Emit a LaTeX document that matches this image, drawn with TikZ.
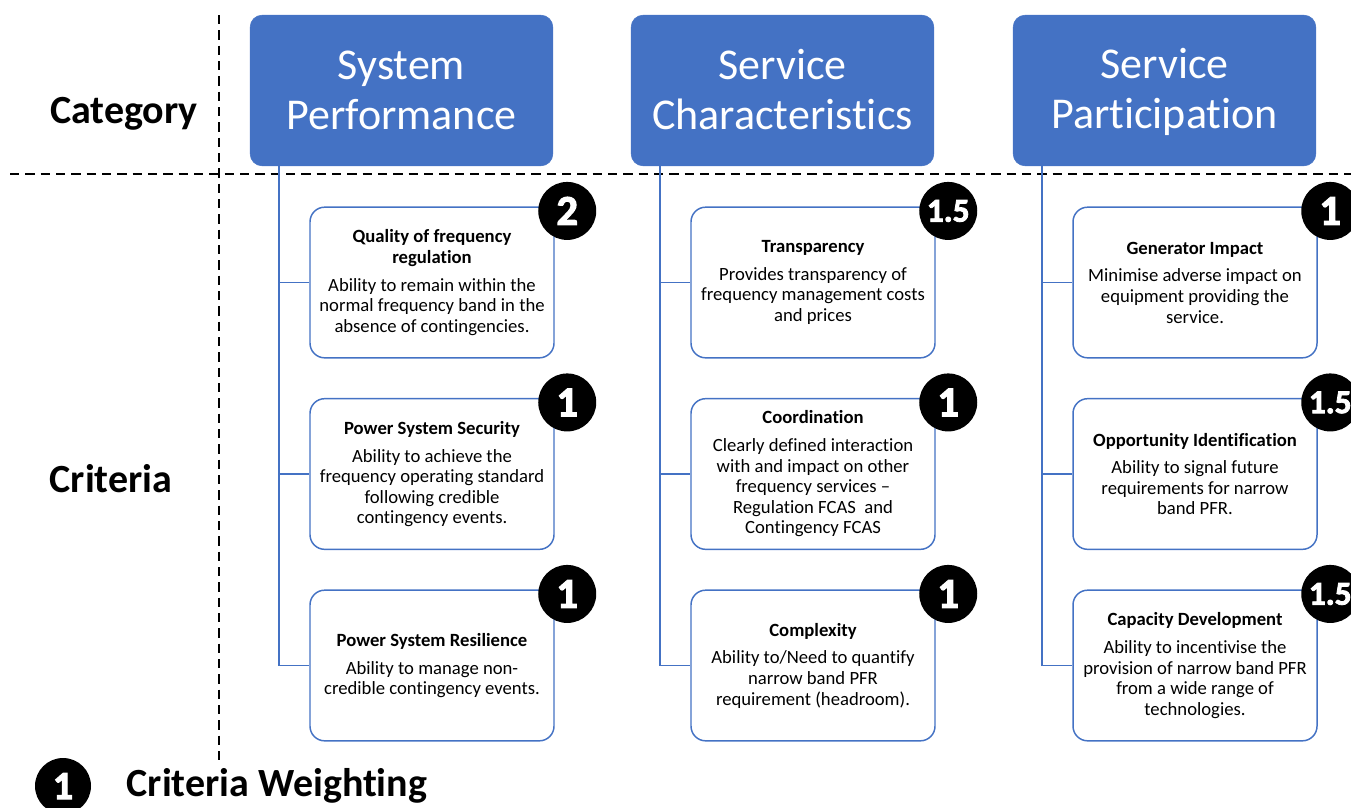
\documentclass[tikz,border=0pt]{standalone}
\usepackage{fontspec}
\setmainfont{Carlito}[Ligatures=NoCommon]
\newfontfamily\wgtfont{Carlito}[BoldFeatures={FakeBold=2.5}]

\definecolor{mblu}{RGB}{68, 114, 196}

\tikzset{
  hdr/.style={fill=mblu, draw=mblu, rounded corners=9pt, minimum width=227pt, minimum height=113pt,
    text=white, align=center, font=\fontsize{33}{37.5}\selectfont},
  crit/.style={draw=mblu, line width=1.1pt, fill=white, rounded corners=11pt, minimum width=183pt,
    minimum height=113pt, align=center, font=\fontsize{14}{15.4}\selectfont},
  wgt/.style={circle, fill=black, text=white, inner sep=0pt, minimum size=43.5pt,
    font=\wgtfont\bfseries},
  side/.style={font=\fontsize{30}{34}\selectfont\bfseries},
  sep/.style={line width=1.5pt, dash pattern=on 7pt off 4.5pt},
  trunk/.style={mblu, line width=1.1pt},
}
% even line boxes for the two-line headings
\newcommand{\hdrlines}[2]{\rule{0pt}{25pt}#1\\#2\rule[-4pt]{0pt}{1pt}}

\begin{document}
\begin{tikzpicture}[x=0.75pt, y=-0.75pt]
			\useasboundingbox (0,0) rectangle (1351,807);

			% --- Grid ---
			\draw[sep] (10,174) -- (1351,174);
			\draw[sep] (219,15) -- (219,760);
			\node[side] (cat) at (124,114) {Category};
			\node[side] (cri) at (111,479) {Criteria};

			% --- Categories ---
			\node[hdr] (h1) at (401.5,90.5) {\hdrlines{System}{Performance}};
			\node[hdr] (h2) at (782.5,90.5) {\hdrlines{Service}{Characteristics}};
			\node[hdr] (h3) at (1164.5,90.5) {\hdrlines{Service}{Participation}};

			% --- Criteria ---
			\node[crit] (c11) at (432,282.5) {\textbf{Quality of frequency}\\\textbf{regulation}\\[5.5pt]
				Ability to remain within the\\normal frequency band in the\\absence of contingencies.};
			\node[crit] (c12) at (432,474) {\textbf{Power System Security}\\[5.5pt]
				Ability to achieve the\\frequency operating standard\\following credible\\contingency events.};
			\node[crit] (c13) at (432,665.5) {\textbf{Power System Resilience}\\[5.5pt]
				Ability to manage non-\\credible contingency events.};

			\node[crit] (c21) at (813,282.5) {\textbf{Transparency}\\[5.5pt]
				Provides transparency of\\frequency management costs\\and prices};
			\node[crit] (c22) at (813,474) {\textbf{Coordination}\\[5.5pt]
				Clearly defined interaction\\with and impact on other\\frequency services --\\Regulation FCAS~ and\\Contingency FCAS};
			\node[crit] (c23) at (813,665.5) {\textbf{Complexity}\\[5.5pt]
				Ability to/Need to quantify\\narrow band PFR\\requirement (headroom).};

			\node[crit] (c31) at (1195,282.5) {\textbf{Generator Impact}\\[5.5pt]
				Minimise adverse impact on\\equipment providing the\\service.};
			\node[crit] (c32) at (1195,474) {\textbf{Opportunity Identification}\\[5.5pt]
				Ability to signal future\\requirements for narrow\\band PFR.};
			\node[crit] (c33) at (1195,665.5) {\textbf{Capacity Development}\\[5.5pt]
				Ability to incentivise the\\provision of narrow band PFR\\from a wide range of\\technologies.};

			% trunks from each category down to its criteria
			\foreach \c in {1,2,3} {
					\path (h\c.south west) ++(29,0) coordinate (t\c);
					\draw[trunk] (t\c) |- (c\c3.west);
					\draw[trunk] (t\c |- c\c1.west) -- (c\c1.west);
					\draw[trunk] (t\c |- c\c2.west) -- (c\c2.west);
				}

			% --- Weightings ---
			\foreach \b/\w/\s in {11/2/32, 12/1/32, 13/1/32, 21/1.5/25, 22/1/32, 23/1/32, 31/1/32, 32/1.5/25, 33/1.5/25} {
					\node[wgt] (w\b) at ([shift={(12.5,4.5)}]c\b.north east)
						{\fontsize{\s}{\s}\selectfont\w};
				}

			% legend
			\node[wgt, minimum size=42pt, font=\wgtfont\bfseries\fontsize{30}{30}\selectfont] (lw) at (63,786) {1};
			\node[side, anchor=west] (lt) at (122,786) {Criteria Weighting};

		\end{tikzpicture}
\end{document}
